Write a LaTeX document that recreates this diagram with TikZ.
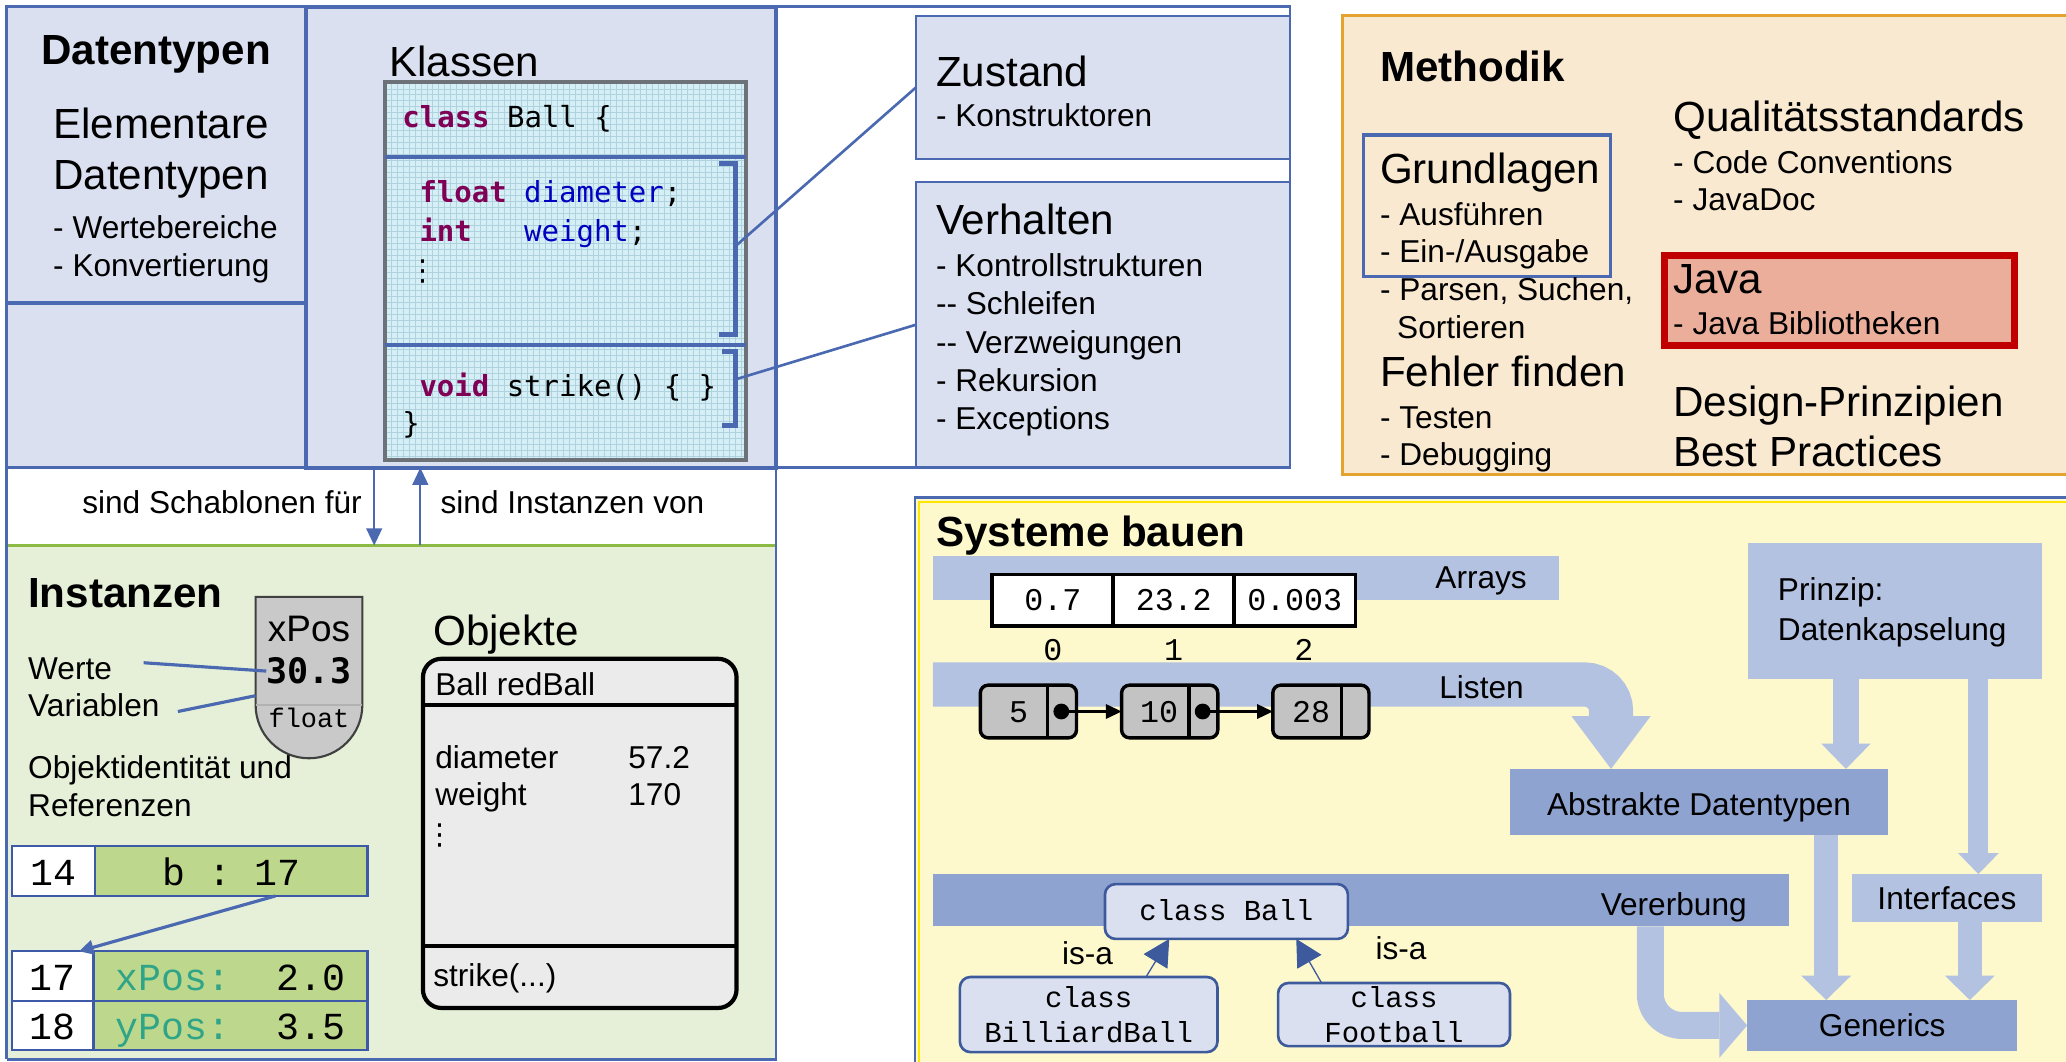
\documentclass[tikz,border=0pt]{standalone}
\usepackage{fontspec}
\setmainfont{Liberation Sans}
\setmonofont{Liberation Mono}
\newfontfamily\consolasfont{DejaVu Sans Mono}
\newfontfamily\dotsfont{DejaVu Sans}
\usepackage{xcolor}
\usepackage{tikz}
\usetikzlibrary{arrows.meta, positioning, fit}

\definecolor{frameblue}{HTML}{4A69B0}
\definecolor{lavender}{HTML}{DAE0F0}
\definecolor{codecyan}{HTML}{D6EFF6}
\definecolor{gridcyan}{HTML}{AFD3DE}
\definecolor{codegray}{HTML}{6C7278}
\definecolor{kwpurple}{HTML}{7F0055}
\definecolor{idblue}{HTML}{0000C0}
\definecolor{instbg}{HTML}{E6F0D8}
\definecolor{instline}{HTML}{8CBA45}
\definecolor{cellgreen}{HTML}{BDD88C}
\definecolor{cellblue}{HTML}{3C5AA8}
\definecolor{tealtext}{HTML}{2FA487}
\definecolor{shapegray}{HTML}{C9C9C9}
\definecolor{objgray}{HTML}{EBEBEB}
\definecolor{methbg}{HTML}{F9E9D1}
\definecolor{methline}{HTML}{E4A22F}
\definecolor{javafill}{HTML}{EAAE9B}
\definecolor{javared}{HTML}{C00000}
\definecolor{sysbg}{HTML}{FEF9CD}
\definecolor{sysyellow}{HTML}{FFE500}
\definecolor{bandlight}{HTML}{B4C2E1}
\definecolor{banddark}{HTML}{8FA3D0}
\definecolor{classline}{HTML}{3D5A9D}
\definecolor{listgray}{HTML}{C3C3C3}

\newcommand{\codekw}[1]{\textcolor{kwpurple}{\bfseries #1}}
\newcommand{\codeid}[1]{\textcolor{idblue}{#1}}

\begin{document}
\begin{tikzpicture}[
    x=0.5pt, y=-0.5pt,
    area/.style={rectangle, inner sep=0pt, outer sep=0pt},
    lbl/.style={anchor=base west, inner sep=0pt},
    ctr/.style={anchor=base, inner sep=0pt},
    bigtxt/.style={font=\fontsize{16}{19}\selectfont},
    normtxt/.style={font=\fontsize{12}{14}\selectfont},
    headtxt/.style={font=\fontsize{16}{19}\selectfont\bfseries},
    codetxt/.style={font=\consolasfont\fontsize{11}{13}\selectfont},
    vdotstxt/.style={inner sep=0pt, font=\dotsfont\fontsize{11}{13}\selectfont},
    memtxt/.style={font=\ttfamily\fontsize{14.5}{17}\selectfont, text height=11pt, text depth=0pt},
    frame/.style={draw=frameblue, line width=1pt},
    panelbox/.style={area, draw=frameblue, line width=1.2pt, fill=lavender},
    link/.style={draw=frameblue, line width=1pt},
    bracket/.style={draw=frameblue, line width=1.9pt},
    relarrow/.style={draw=frameblue, line width=0.7pt, -{Triangle[length=6.5pt, width=6pt]}},
    refarrow/.style={draw=frameblue, line width=1.2pt, -{Triangle[length=5.5pt, width=5.5pt]}},
    cell/.style={area, draw=cellblue, line width=0.9pt, memtxt},
    arrcell/.style={area, draw=black, line width=1.3pt, fill=white, minimum width=46pt, minimum height=19.5pt, text height=8pt, text depth=0pt, font=\ttfamily\fontsize{12}{14}\selectfont},
    idx/.style={inner sep=0pt, font=\ttfamily\fontsize{12}{14}\selectfont},
    listnode/.style={area, draw=black, line width=1.3pt, fill=listgray, rounded corners=3pt, minimum width=36.5pt, minimum height=20pt},
    listval/.style={inner sep=0pt, text height=8pt, text depth=0pt, font=\ttfamily\fontsize{12}{14}\selectfont},
    listdot/.style={circle, fill=black, inner sep=0pt, minimum size=6pt},
    listarrow/.style={line width=0.8pt, -{Triangle[length=6pt, width=5.5pt]}},
    classbox/.style={area, draw=classline, line width=1pt, fill=lavender, rounded corners=4pt, align=center, font=\ttfamily\fontsize{11}{13.5}\selectfont},
    isa/.style={draw=classline, line width=0.5pt, -{Triangle[length=10pt, width=10.5pt, fill=classline]}},
    blockarrow/.style n args={3}{draw=bandlight, line width=#1, -{Triangle[width=#2, length=#3, line width=0pt]}}
]
\useasboundingbox (0,0) rectangle (1568,806);

% backgrounds
\fill[lavender] (5,5) rectangle (589,355);
\node[area, fill=instbg, fit={(5,414) (589,804)}] (instanzen) {};
\draw[instline, line width=1pt] (instanzen.north west) -- (instanzen.north east);
\node[area, draw=methline, line width=1pt, fill=methbg, fit={(1019,12) (1575,360)}] (methodik) {};
\node[area, draw=frameblue, line width=1pt, fill=sysbg, fit={(694.5,377.5) (1580,815)}] (systeme) {};
\draw[sysyellow, line width=1.1pt] (697.5,815) -- (697.5,381) -- (1580,381);

% Datentypen
\node[panelbox, fit={(5,5) (232,230)}] (datentypen) {};
\node[ctr, headtxt] (dttitle) at (118.5,49) {Datentypen};
\node[lbl, bigtxt] (dt1) at (40,105) {Elementare};
\node[lbl, bigtxt] (dt2) at (40,144) {Datentypen};
\node[lbl, normtxt] (dt3) at (40,181) {- Wertebereiche};
\node[lbl, normtxt] (dt4) at (40,210) {- Konvertierung};

% Klassen
\node[panelbox, line width=1.5pt, fit={(232,5) (589,355)}] (klassen) {};
\node[lbl, bigtxt] (kltitle) at (295,58) {Klassen};
\fill[codecyan] (292,62) rectangle (566,349);
\draw[gridcyan, line width=0.3pt, step=2.25pt] (292,62) grid (566,349);
\node[area, draw=codegray, line width=1.6pt, fit={(292,62) (566,349)}] (codebox) {};
\draw[frameblue, line width=1.6pt] (292,119) -- (566,119) (292,262) -- (566,262);
\node[lbl, codetxt] (code1) at (305,97) {\codekw{class} Ball \{};
\node[lbl, codetxt] (code2) at (318,154) {\codekw{float} \codeid{diameter};};
\node[lbl, codetxt] (code3) at (318,183) {\codekw{int}\ \ \ \codeid{weight};};
\node[vdotstxt] (code4) at (321,206) {⋮};
\node[lbl, codetxt] (code5) at (318,301) {\codekw{void} strike() \{ \}};
\node[lbl, codetxt] (code6) at (305,329) {\}};
\draw[bracket] (546,124) -- (558,124) -- (558,254) -- (546,254);
\draw[bracket] (548,267) -- (558,267) -- (558,323) -- (548,323);
\coordinate (stateref) at (558,187);
\coordinate (behavref) at (558,288);

% Zustand / Verhalten
\node[panelbox, line width=0.8pt, fit={(695,12) (979,121)}] (zustand) {};
\node[panelbox, line width=0.8pt, fit={(695,138) (979,355)}] (verhalten) {};
\node[lbl, bigtxt] (zt1) at (710,66) {Zustand};
\node[lbl, normtxt] (zt2) at (710,96) {- Konstruktoren};
\node[lbl, bigtxt] (vt1) at (710,178) {Verhalten};
\node[lbl, normtxt] (vt2) at (710,209.5) {- Kontrollstrukturen};
\node[lbl, normtxt] (vt3) at (710,239) {-{}- Schleifen};
\node[lbl, normtxt] (vt4) at (710,268) {-{}- Verzweigungen};
\node[lbl, normtxt] (vt5) at (710,297) {- Rekursion};
\node[lbl, normtxt] (vt6) at (710,326) {- Exceptions};
\draw[link] (stateref) -- (zustand.west);
\draw[link] (behavref) -- (verhalten.west);

% frame
\draw[frame] (5,804) -- (5,5) -- (979,5) -- (979,355) -- (5,355);
\draw[frame] (5,804) -- (589,804) -- (589,355);

% Schablonen / Instanzen
\node[lbl, normtxt, anchor=base east] (schablone) at (275,390) {sind Schablonen für};
\node[lbl, normtxt] (instanzvon) at (334,390) {sind Instanzen von};
\coordinate (tmplcol) at (284,0);
\coordinate (instcol) at (319,0);
\draw[relarrow] (klassen.south -| tmplcol) -- (instanzen.north -| tmplcol);
\draw[relarrow] (instanzen.north -| instcol) -- (klassen.south -| instcol);

% Instanzen
\node[lbl, headtxt] (insttitle) at (21,461) {Instanzen};
\draw[black!75, line width=0.8pt, fill=shapegray] (194,453) -- (275,453) -- (275,535) arc[start angle=0, end angle=180, radius=40.5] -- cycle;
\draw[black!30, line width=0.5pt] (194,535) -- (275,535);
\node[ctr, font=\fontsize{14}{16}\selectfont] (varname) at (234.5,487) {xPos};
\node[ctr, font=\consolasfont\bfseries\fontsize{13.3}{16}\selectfont] (varvalue) at (234.5,519) {30.3};
\node[ctr, font=\ttfamily\fontsize{10.2}{12}\selectfont] (vartype) at (234.5,552) {float};
\node[lbl, normtxt] (werte) at (21,516) {Werte};
\node[lbl, normtxt] (variablen) at (21,544) {Variablen};
\coordinate (wertestart) at (109,503);
\coordinate (variablenstart) at (135,540);
\coordinate (variablenend) at (194,528);
\draw[link, line width=1.2pt] (wertestart) -- (varvalue.west);
\draw[link, line width=1.2pt] (variablenstart) -- (variablenend);
\node[lbl, normtxt] (ident1) at (21,591) {Objektidentität und};
\node[lbl, normtxt] (ident2) at (21,620) {Referenzen};

\node[cell, fill=white, minimum width=31.5pt, minimum height=19pt] (addr14) at (40.5,661) {14};
\node[cell, fill=cellgreen, minimum width=103.5pt, minimum height=19pt] (val14) at (175.5,661) {b : 17};
\node[cell, fill=white, minimum width=31pt, minimum height=18.75pt] (addr17) at (40,740.75) {17};
\node[cell, fill=cellgreen, minimum width=104pt, minimum height=18.75pt] (val17) at (175,740.75) {\textcolor{tealtext}{xPos:}\ \ 2.0};
\node[cell, fill=white, minimum width=31pt, minimum height=18.75pt] (addr18) at (40,778.25) {18};
\node[cell, fill=cellgreen, minimum width=104pt, minimum height=18.75pt] (val18) at (175,778.25) {\textcolor{tealtext}{yPos:}\ \ 3.5};
\draw[refarrow] ([xshift=16.75pt]val14.south) -- ([xshift=-5.5pt]addr17.north east);

% Objekte
\node[lbl, bigtxt] (objtitle) at (328.5,490) {Objekte};
\node[area, draw=black, line width=1.6pt, fill=objgray, rounded corners=7pt, fit={(321,500) (559,765)}] (redball) {};
\draw[line width=1.6pt] (321,535) -- (559,535) (321,718) -- (559,718);
\node[lbl, normtxt] (objname) at (330,528) {Ball redBall};
\node[lbl, normtxt] (attr1) at (330,583) {diameter};
\node[lbl, normtxt] (attr1val) at (476.5,583) {57.2};
\node[lbl, normtxt] (attr2) at (330,611) {weight};
\node[lbl, normtxt] (attr2val) at (476.5,611) {170};
\node[vdotstxt] (attrdots) at (334,634) {⋮};
\node[lbl, normtxt] (method) at (328.5,749) {strike(...)};

% Methodik
\node[lbl, headtxt] (mtitle) at (1047,62) {Methodik};
\node[area, draw=frameblue, line width=1.2pt, fit={(1035,102.5) (1222.5,210)}] (grundlagen) {};
\node[lbl, bigtxt] (gr1) at (1047,139) {Grundlagen};
\node[lbl, normtxt] (gr2) at (1047,171) {- Ausführen};
\node[lbl, normtxt] (gr3) at (1047,199) {- Ein-/Ausgabe};
\node[lbl, normtxt] (gr4) at (1047,228) {- Parsen, Suchen,};
\node[lbl, normtxt] (gr5) at (1060,257) {Sortieren};
\node[lbl, bigtxt] (ff1) at (1047,293.5) {Fehler finden};
\node[lbl, normtxt] (ff2) at (1047,325) {- Testen};
\node[lbl, normtxt] (ff3) at (1047,353) {- Debugging};
\node[lbl, bigtxt] (qs1) at (1269.5,100) {Qualitätsstandards};
\node[lbl, normtxt] (qs2) at (1269.5,131.6) {- Code Conventions};
\node[lbl, normtxt] (qs3) at (1269.5,160) {- JavaDoc};
\node[area, draw=javared, line width=2.75pt, fill=javafill, fit={(1263,194) (1529,262)}] (java) {};
\node[lbl, bigtxt] (jv1) at (1269.5,222.7) {Java};
\node[lbl, normtxt] (jv2) at (1269.5,254) {- Java Bibliotheken};
\node[lbl, bigtxt] (dp1) at (1269.5,316.4) {Design-Prinzipien};
\node[lbl, bigtxt] (dp2) at (1269.5,354) {Best Practices};

% Systeme bauen
\node[lbl, headtxt] (systitle) at (710,415) {Systeme bauen};
\node[area, fill=bandlight, fit={(708,422) (1183,455.5)}] (arrays) {};
\node[lbl, normtxt] (arraystxt) at (1089,447) {Arrays};
\node[arrcell] (a0) at (799,455.5) {0.7\ };
\node[arrcell] (a1) at (890.8,455.5) {23.2};
\node[arrcell] (a2) at (982.6,455.5) {0.003};
\node[idx, below=5pt of a0] (i0) {0};
\node[idx, below=5pt of a1] (i1) {1};
\node[idx, below=5pt of a2, xshift=3.5pt] (i2) {2};

\node[area, fill=banddark, minimum width=143.5pt, minimum height=25pt, text height=10pt, text depth=0pt, normtxt] (adt) at (1289.5,608.6) {Abstrakte Datentypen};
\node[area, fill=bandlight, fit={(1326.6,411.8) (1549.5,515.5)}] (prinzip) {};
\node[lbl, normtxt] (pr1) at (1349,455.6) {Prinzip:};
\node[lbl, normtxt] (pr2) at (1349,485.9) {Datenkapselung};
\node[area, fill=bandlight, minimum width=71.9pt, minimum height=18.2pt, text height=8.4pt, text depth=0pt, normtxt] (interfaces) at (1477.6,681.6) {Interfaces};
\node[area, fill=banddark, minimum width=102.5pt, minimum height=19.25pt, text height=8.75pt, text depth=0pt, normtxt] (generics) at (1428.5,778.25) {Generics};
\node[area, fill=banddark, fit={(708,663) (1358,703)}] (vererbung) {};
\node[lbl, normtxt] (vererbungtxt) at (1214.5,695) {Vererbung};

\coordinate (liststart) at (708,519.5);
\coordinate (listcol) at (1222.7,0);
\coordinate (encapcol) at (1401,0);
\coordinate (ifcol) at (1501.5,0);
\coordinate (adtcol) at (1386,0);
\coordinate (genifcol) at (1495,0);
\coordinate (inhcol) at (1252.5,0);
\draw[blockarrow={16.75pt}{30pt}{20pt}, rounded corners=10pt] (liststart) -| (adt.north -| listcol);
\draw[blockarrow={9.5pt}{18.75pt}{9.6pt}] (prinzip.south -| encapcol) -- (adt.north -| encapcol);
\draw[blockarrow={7.65pt}{15.5pt}{8pt}] (prinzip.south -| ifcol) -- (interfaces.north -| ifcol);
\draw[blockarrow={9pt}{19pt}{9.3pt}] (adt.south -| adtcol) -- (generics.north -| adtcol);
\draw[blockarrow={9.25pt}{19pt}{9.3pt}] (interfaces.south -| genifcol) -- (generics.north -| genifcol);
\draw[blockarrow={10.25pt}{24.5pt}{10.5pt}, rounded corners=12pt] (vererbung.south -| inhcol) |- (generics.west);
\node[lbl, normtxt] (listentxt) at (1092,530) {Listen};

\node[listnode] (l1) at (780.5,540) {};
\node[listnode] (l2) at (887.75,540) {};
\node[listnode] (l3) at (1002.5,540) {};
\draw[line width=1.3pt] ([xshift=25.5pt]l1.north west) -- ([xshift=25.5pt]l1.south west);
\draw[line width=1.3pt] ([xshift=25.5pt]l2.north west) -- ([xshift=25.5pt]l2.south west);
\draw[line width=1.3pt] ([xshift=26pt]l3.north west) -- ([xshift=26pt]l3.south west);
\node[listval] (v1) at ([xshift=14.5pt]l1.west) {5};
\node[listval] (v2) at ([xshift=14.25pt]l2.west) {10};
\node[listval] (v3) at ([xshift=14.5pt]l3.west) {28};
\node[listdot] (d1) at ([xshift=-5.75pt]l1.east) {};
\node[listdot] (d2) at ([xshift=-5.75pt]l2.east) {};
\draw[listarrow] (d1.center) -- (l2.west);
\draw[listarrow] (d2.center) -- (l3.west);

\node[classbox, minimum width=92.2pt, minimum height=20.8pt, text height=7pt, text depth=0pt] (ballcls) at (930.8,691.8) {class Ball};
\node[classbox, minimum width=97.75pt, minimum height=28.5pt] (billiardcls) at (826.25,770) {class\\BilliardBall};
\node[classbox, minimum width=88pt, minimum height=24pt] (footballcls) at (1058,770) {class\\Football};
\draw[isa] ([xshift=21.75pt]billiardcls.north) -- ([xshift=-21.7pt]ballcls.south);
\draw[isa] ([xshift=-27.5pt]footballcls.north) -- ([xshift=26.5pt]ballcls.south);
\node[lbl, normtxt] (isa1) at (805.6,732) {is-a};
\node[lbl, normtxt] (isa2) at (1043.6,728) {is-a};

\end{tikzpicture}
\end{document}
